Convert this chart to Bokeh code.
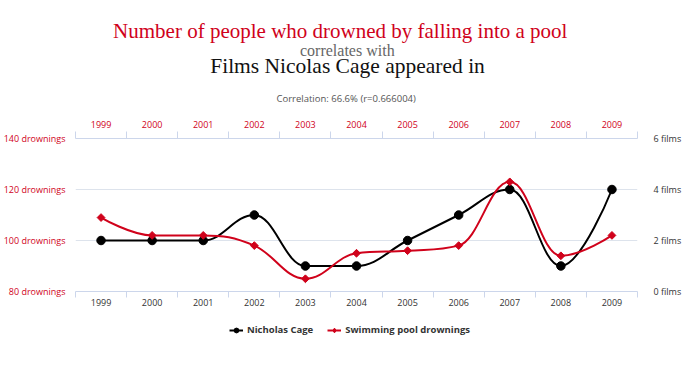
import math
from bokeh.plotting import figure
from bokeh.layouts import column
from bokeh.models import (Range1d, LinearAxis, FixedTicker, Legend, Title,
                          LegendItem, ColumnDataSource)
from bokeh.embed import file_html
from bokeh.resources import INLINE

# ---------------- data ----------------
years = ["1999", "2000", "2001", "2002", "2003", "2004", "2005", "2006", "2007", "2008", "2009"]
drownings = [109, 102, 102, 98, 85, 95, 96, 98, 123, 94, 102]
cage_films = [2, 2, 2, 3, 1, 1, 2, 3, 4, 1, 4]
drown_ticks = [80, 100, 120, 140]
film_ticks = [0, 2, 4, 6]
series_names = ["Nicholas Cage", "Swimming pool drownings"]

title_main = "Number of people who drowned by falling into a pool"
title_mid = "correlates with"
title_sub = "Films Nicolas Cage appeared in"
corr_text = "Correlation: 66.6% (r=0.666004)"

RED = "#d0021b"
AXIS = "#ccd6eb"
GRID = "#dde3ec"
TXT = "#333333"
FONT = "Open Sans"

xs = list(range(len(years)))


def spline_segments(xv, yv, smoothing=1.5):
    """Highcharts-style spline control points, in data space."""
    n = len(xv)
    denom = smoothing + 1
    lc = [(xv[i], yv[i]) for i in range(n)]
    rc = [(xv[i], yv[i]) for i in range(n)]
    for i in range(1, n - 1):
        px, py = xv[i], yv[i]
        lx, ly = xv[i - 1], yv[i - 1]
        nx, ny = xv[i + 1], yv[i + 1]
        lcx = (smoothing * px + lx) / denom
        lcy = (smoothing * py + ly) / denom
        rcx = (smoothing * px + nx) / denom
        rcy = (smoothing * py + ny) / denom
        corr = 0.0
        if rcx != lcx:
            corr = (rcy - lcy) * (rcx - px) / (rcx - lcx) + py - rcy
        lcy += corr
        rcy += corr
        if lcy > ly and lcy > py:
            lcy = max(ly, py); rcy = 2 * py - lcy
        elif lcy < ly and lcy < py:
            lcy = min(ly, py); rcy = 2 * py - lcy
        if rcy > ny and rcy > py:
            rcy = max(ny, py); lcy = 2 * py - rcy
        elif rcy < ny and rcy < py:
            rcy = min(ny, py); lcy = 2 * py - rcy
        lc[i] = (lcx, lcy)
        rc[i] = (rcx, rcy)
    return dict(
        x0=xv[:-1], y0=yv[:-1], x1=xv[1:], y1=yv[1:],
        cx0=[rc[i][0] for i in range(n - 1)], cy0=[rc[i][1] for i in range(n - 1)],
        cx1=[lc[i + 1][0] for i in range(n - 1)], cy1=[lc[i + 1][1] for i in range(n - 1)],
    )


# ---------------- main figure ----------------
p = figure(width=684, height=312,
           x_range=Range1d(-0.5, len(years) - 0.5),
           y_range=Range1d(drown_ticks[0], drown_ticks[-1]),
           x_axis_location=None, y_axis_location=None,
           output_backend="svg", toolbar_location=None,
           min_border_left=68, min_border_right=39,
           min_border_top=138, min_border_bottom=21)
p.outline_line_color = None
p.background_fill_color = "white"
p.border_fill_color = "white"
p.extra_y_ranges = {"films": Range1d(film_ticks[0], film_ticks[-1])}

# left axis (drownings)
left_ticker = FixedTicker(ticks=drown_ticks)
yl = LinearAxis(ticker=left_ticker)
yl.major_label_overrides = {t: f"{t} drownings" for t in drown_ticks}
yl.axis_line_color = None
yl.major_tick_line_color = None
yl.minor_tick_line_color = None
yl.major_label_text_color = RED
yl.major_label_text_font = FONT
yl.major_label_text_font_size = "9px"
yl.major_label_standoff = 4
p.add_layout(yl, "left")

# right axis (films)
yr = LinearAxis(y_range_name="films", ticker=FixedTicker(ticks=film_ticks))
yr.major_label_overrides = {t: f"{t} films" for t in film_ticks}
yr.axis_line_color = None
yr.major_tick_line_color = None
yr.minor_tick_line_color = None
yr.major_label_text_color = TXT
yr.major_label_text_font = FONT
yr.major_label_text_font_size = "9px"
yr.major_label_standoff = 10
p.add_layout(yr, "right")

bounds = [i - 0.5 for i in range(len(years) + 1)]
labels = {i: y for i, y in enumerate(years)}


def x_axis(color, tick_len, standoff):
    ax = LinearAxis(ticker=FixedTicker(ticks=xs, minor_ticks=bounds))
    ax.major_label_overrides = labels
    ax.axis_line_color = AXIS
    ax.major_tick_line_color = None
    ax.major_tick_out = 0
    ax.major_tick_in = 0
    ax.minor_tick_line_color = AXIS
    ax.minor_tick_out = tick_len
    ax.minor_tick_in = 0
    ax.major_label_text_color = color
    ax.major_label_text_font = FONT
    ax.major_label_text_font_size = "9px"
    ax.major_label_standoff = standoff
    return ax


p.add_layout(x_axis(TXT, 6, 1), "below")
p.add_layout(x_axis(RED, 7, 4), "above")

p.xgrid.visible = False
p.ygrid.ticker = left_ticker
p.ygrid.grid_line_color = GRID

# ---------------- series ----------------
src_d = ColumnDataSource(spline_segments(xs, drownings))
src_c = ColumnDataSource(spline_segments(xs, cage_films))

p.bezier(x0="x0", y0="y0", x1="x1", y1="y1", cx0="cx0", cy0="cy0",
         cx1="cx1", cy1="cy1", source=src_c, y_range_name="films",
         line_color="black", line_width=2)
p.bezier(x0="x0", y0="y0", x1="x1", y1="y1", cx0="cx0", cy0="cy0",
         cx1="cx1", cy1="cy1", source=src_d, line_color=RED, line_width=2)
p.scatter(xs, cage_films, y_range_name="films", marker="circle",
          size=8.5, fill_color="black", line_color="black")
p.scatter(xs, drownings, marker="square", angle=math.pi / 4,
          size=5.5, fill_color=RED, line_color=RED)


# ---------------- titles (added from the plot outward) ----------------
def add_title(text, font, size, color, standoff, offset):
    t = Title(text=text, align="left", offset=offset, text_font=font,
              text_font_size=size, text_color=color, text_font_style="normal",
              standoff=standoff)
    p.add_layout(t, "above")


add_title(corr_text, FONT, "9.5px", "#555555", 25, 201)
add_title(title_sub, "Liberation Serif", "21.5px", "#111111", -0.7, 134.7)
add_title(title_mid, "Liberation Serif", "16px", "#666666", -12.2, 224.5)
add_title(title_main, "Liberation Serif", "21px", RED, 4.6, 37.6)

# ---------------- legend strip ----------------
lf = figure(width=684, height=40, x_range=Range1d(0, 1), y_range=Range1d(0, 1),
            x_axis_location=None, y_axis_location=None,
            output_backend="svg", toolbar_location=None,
            min_border_left=0, min_border_right=0, min_border_top=0, min_border_bottom=0)
lf.outline_line_color = None
lf.grid.visible = False
lf.background_fill_color = "white"
lf.border_fill_color = "white"

NAN = [float("nan")]
cage_l = lf.line(x=NAN, y=NAN, line_color="black", line_width=2)
cage_m = lf.scatter(x=NAN, y=NAN, marker="circle", size=8, fill_color="black", line_color="black")
drown_l = lf.line(x=NAN, y=NAN, line_color=RED, line_width=2)
drown_m = lf.scatter(x=NAN, y=NAN, marker="diamond", size=9, fill_color=RED, line_color=RED)

legend = Legend(items=[
    LegendItem(label=series_names[0], renderers=[cage_l, cage_m]),
    LegendItem(label=series_names[1], renderers=[drown_l, drown_m]),
], orientation="horizontal", location=(154, 16))
legend.border_line_color = None
legend.background_fill_alpha = 0
legend.padding = 0
legend.margin = 0
legend.spacing = 14
legend.glyph_width = 14
legend.glyph_height = 12
legend.label_standoff = 4
legend.label_text_font = FONT
legend.label_text_font_style = "bold"
legend.label_text_font_size = "9.5px"
legend.label_text_color = TXT
lf.add_layout(legend, "center")

layout = column(p, lf, spacing=0)
open("out.html", "w").write(file_html(layout, INLINE))
